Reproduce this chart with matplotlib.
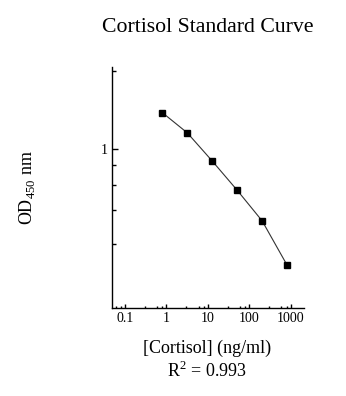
import numpy as np
import matplotlib
matplotlib.use("Agg")
import matplotlib.pyplot as plt

# standard concentrations (ng/ml) and measured OD at 450 nm
conc = [0.8, 3.2, 12.8, 51.2, 204.8, 819.2]
od450 = [1.345, 1.13, 0.924, 0.777, 0.666, 0.552]

x_major = [0.1, 1, 10, 100, 1000]
x_major_labels = ["0.1", "1", "10", "100", "1000"]
x_minor = [0.06, 0.08, 0.3, 0.6, 0.8, 3, 6, 8, 30, 60, 80, 300, 600, 800]
y_major = [1]
y_minor = [0.6, 0.7, 0.8, 0.9, 2.2]

r_squared = 0.993


def recip(v):
    v = np.asarray(v, dtype=float)
    with np.errstate(divide="ignore", invalid="ignore"):
        return -1.0 / v


plt.rcParams["font.family"] = ["Liberation Serif", "DejaVu Serif"]
plt.rcParams["mathtext.fontset"] = "custom"
plt.rcParams["mathtext.rm"] = "Liberation Serif"

fig = plt.figure(figsize=(3.46, 3.96), dpi=100)
ax = fig.add_axes([0.3237, 0.223, 0.555, 0.6086])

ax.plot(conc, od450, color="#333333", linewidth=0.8,
        marker="s", markersize=4, markerfacecolor="black",
        markeredgecolor="black", zorder=3)

ax.set_xscale("log")
ax.set_yscale("function", functions=(recip, recip))
ax.set_xlim(0.049, 2100)
ax.set_ylim(0.474, 2.37)

ax.set_xticks(x_major)
ax.set_xticklabels(x_major_labels)
ax.set_xticks(x_minor, minor=True)
ax.set_xticklabels([], minor=True)
ax.set_yticks(y_major)
ax.set_yticklabels(["1"])
ax.set_yticks(y_minor, minor=True)
ax.set_yticklabels([], minor=True)

for side in ("top", "right"):
    ax.spines[side].set_visible(False)
for side in ("left", "bottom"):
    ax.spines[side].set_linewidth(1.0)

ax.tick_params(axis="both", which="both", direction="in", width=1.0,
               labelsize=10, colors="black")
ax.tick_params(axis="x", which="major", length=2.6, pad=3)
ax.tick_params(axis="x", which="minor", length=1.4)
ax.tick_params(axis="y", which="major", length=4.3, pad=3)
ax.tick_params(axis="y", which="minor", length=2.6)

fig.text(208 / 346, 1 - 27 / 396, "Cortisol Standard Curve",
         ha="center", va="center", fontsize=15.7)
fig.text(207.5 / 346, 1 - 348 / 396, "[Cortisol] (ng/ml)",
         ha="center", va="center", fontsize=13)
fig.text(207 / 346, 1 - 371 / 396, r"R$^{2}$ = " + f"{r_squared:.3f}",
         ha="center", va="center", fontsize=13)
fig.text(27 / 346, 1 - 188 / 396, r"OD$_{450}$ nm",
         ha="center", va="center", rotation=90, fontsize=13)

fig.savefig("out.png", dpi=100)
